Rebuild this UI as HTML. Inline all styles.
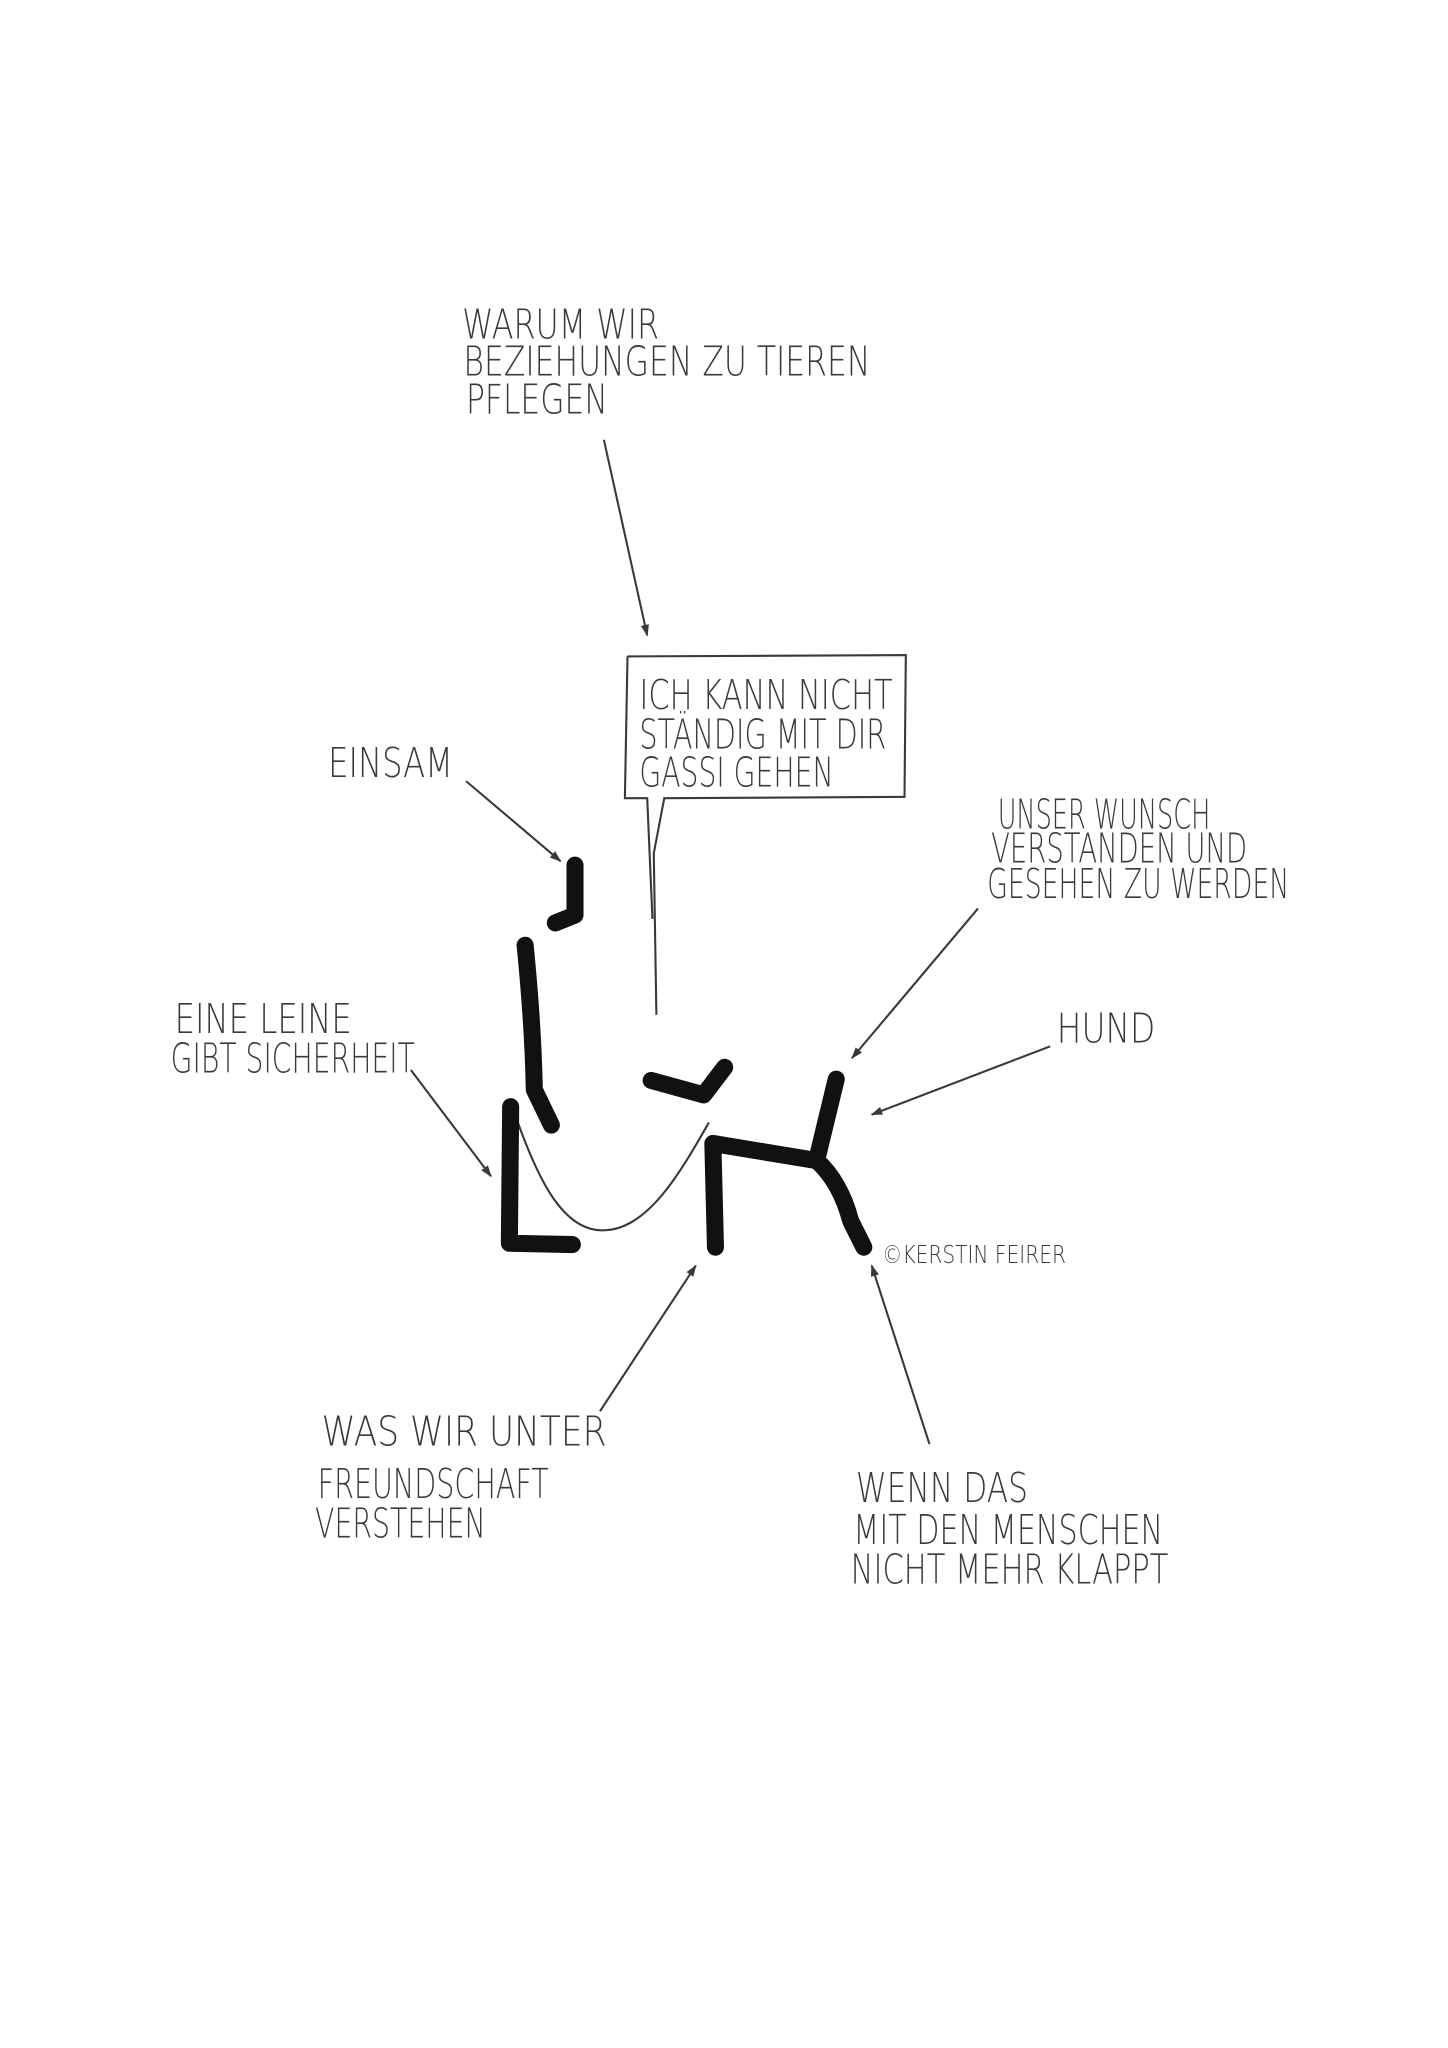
<!DOCTYPE html>
<html><head><meta charset="utf-8"><style>
html,body{margin:0;padding:0;background:#fff;}
svg{display:block;}
text{font-family:"DejaVu Sans","Liberation Sans",sans-serif;font-weight:200;fill:#3a3a3a;}
</style></head><body>
<svg width="1448" height="2048" viewBox="0 0 1103 1560" preserveAspectRatio="none" xmlns="http://www.w3.org/2000/svg">
<rect width="1103" height="1560" fill="#fff"/>
<defs><marker id="a" viewBox="0 0 10 10" refX="9" refY="5" markerWidth="9" markerHeight="9" markerUnits="userSpaceOnUse" orient="auto"><path d="M0,1.5 L10,5 L0,8.5 z" fill="#3a3a3a"/></marker></defs>
<g font-size="31" >
<text x="352" y="258" textLength="150" lengthAdjust="spacingAndGlyphs">WARUM WIR</text>
<text x="353" y="286" textLength="310" lengthAdjust="spacingAndGlyphs">BEZIEHUNGEN ZU TIEREN</text>
<text x="355" y="315" textLength="108" lengthAdjust="spacingAndGlyphs">PFLEGEN</text>
<text x="487" y="540" textLength="193" lengthAdjust="spacingAndGlyphs">ICH KANN NICHT</text>
<text x="487" y="570" textLength="188" lengthAdjust="spacingAndGlyphs">STÄNDIG MIT DIR</text>
<text x="487" y="599" textLength="148" lengthAdjust="spacingAndGlyphs">GASSI GEHEN</text>
<text x="250" y="592" textLength="95" lengthAdjust="spacingAndGlyphs">EINSAM</text>
<text x="133" y="787" textLength="135" lengthAdjust="spacingAndGlyphs">EINE LEINE</text>
<text x="130" y="817" textLength="186" lengthAdjust="spacingAndGlyphs">GIBT SICHERHEIT</text>
<text x="760" y="631" textLength="162" lengthAdjust="spacingAndGlyphs">UNSER WUNSCH</text>
<text x="755" y="657" textLength="195" lengthAdjust="spacingAndGlyphs">VERSTANDEN UND</text>
<text x="752" y="684" textLength="230" lengthAdjust="spacingAndGlyphs">GESEHEN ZU WERDEN</text>
<text x="805" y="794" textLength="75" lengthAdjust="spacingAndGlyphs">HUND</text>
<text x="245" y="1101" textLength="217" lengthAdjust="spacingAndGlyphs">WAS WIR UNTER</text>
<text x="242" y="1141" textLength="176" lengthAdjust="spacingAndGlyphs">FREUNDSCHAFT</text>
<text x="240" y="1171" textLength="130" lengthAdjust="spacingAndGlyphs">VERSTEHEN</text>
<text x="652" y="1144" textLength="131" lengthAdjust="spacingAndGlyphs">WENN DAS</text>
<text x="650" y="1176" textLength="236" lengthAdjust="spacingAndGlyphs">MIT DEN MENSCHEN</text>
<text x="648" y="1206" textLength="242" lengthAdjust="spacingAndGlyphs">NICHT MEHR KLAPPT</text>
</g>
<text x="672" y="962" font-size="19" textLength="140" lengthAdjust="spacingAndGlyphs">©KERSTIN FEIRER</text>
<g stroke="#3a3a3a" stroke-width="1.6" fill="none">
<line x1="460" y1="335" x2="493" y2="484" marker-end="url(#a)"/>
<line x1="355" y1="595" x2="427" y2="656" marker-end="url(#a)"/>
<line x1="313" y1="815" x2="374" y2="896" marker-end="url(#a)"/>
<line x1="745" y1="692" x2="649" y2="806" marker-end="url(#a)"/>
<line x1="800" y1="797" x2="664" y2="849" marker-end="url(#a)"/>
<line x1="457" y1="1075" x2="530" y2="964" marker-end="url(#a)"/>
<line x1="708" y1="1100" x2="664" y2="964" marker-end="url(#a)"/>
<path d="M478,500 L690,499 L689,607 L506,608 L498,650 L500,773 M478,500 L476,608 L493,608 L497,700"/>
<path d="M383,928 L385,842 M392,848 C410,900 430,940 462,937 C495,935 520,890 540,855"/>
</g>
<g stroke="#111" stroke-width="13" fill="none" stroke-linecap="round" stroke-linejoin="round">
<path d="M438,659 L438,697 L423,703"/>
<path d="M400,720 Q406,780 407,830 L420,857"/>
<path d="M389,843 L388,947 L436,948"/>
<path d="M496,823 L536,834 L552,813"/>
<path d="M545,950 L543,871 L622,884 L637,822 M622,884 Q640,900 648,930 L658,950"/>
</g>
</svg>
</body></html>
